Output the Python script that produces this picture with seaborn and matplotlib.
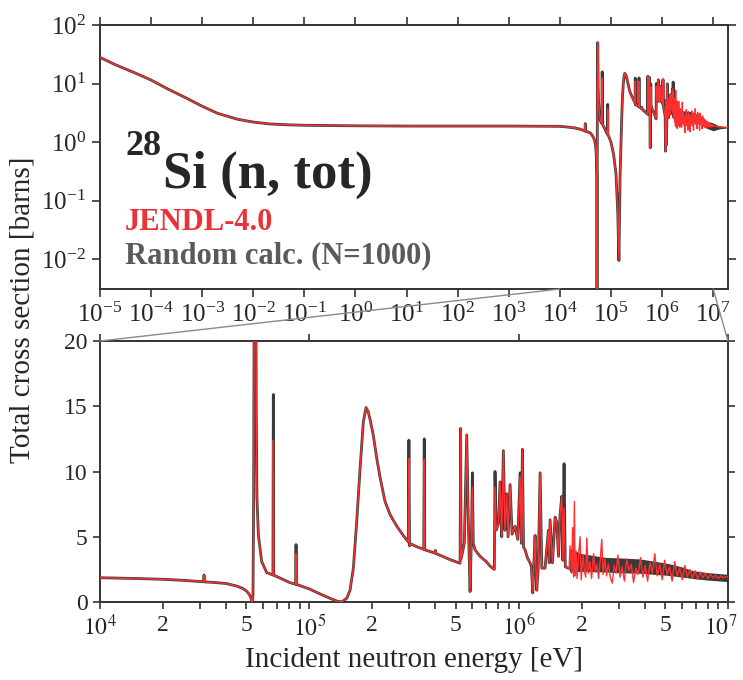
import numpy as np
import matplotlib
matplotlib.use("Agg")
import matplotlib.pyplot as plt
from matplotlib.ticker import LogLocator, NullLocator, MultipleLocator, FuncFormatter
from matplotlib.patches import ConnectionPatch
from matplotlib.transforms import ScaledTranslation, blended_transform_factory
import seaborn as sns

# thermal / 1/v region (top panel only)
thermal_energy = [1e-5, 2e-5, 5e-5, 1e-4, 2e-4, 5e-4, 1e-3, 2e-3, 5e-3, 1e-2,
                  2e-2, 5e-2, 1e-1, 1e0, 1e1, 1e2, 1e3, 5e3]
thermal_xs = [28.0, 21.0, 15.0, 11.5, 8.3, 5.6, 4.1, 3.1, 2.45, 2.2,
              2.05, 1.97, 1.94, 1.9, 1.88, 1.88, 1.88, 1.87]

# resolved resonance region, JENDL-4.0
res_energy = [
    1.0e4, 1.5e4, 2.0e4, 2.5e4, 3.0e4, 3.12e4, 3.14e4, 3.16e4, 3.5e4, 4.0e4,
    4.5e4, 4.8e4, 5.0e4, 5.1e4, 5.2e4, 5.28e4, 5.33e4, 5.38e4, 5.42e4, 5.46e4,
    5.50e4, 5.54e4, 5.58e4, 5.62e4, 5.71e4, 5.92e4, 6.26e4, 6.70e4, 6.73e4, 6.76e4,
    7.5e4, 8.09e4, 8.60e4, 8.64e4, 8.68e4, 9.3e4, 1.0e5, 1.125e5, 1.256e5, 1.36e5,
    1.43e5, 1.509e5, 1.565e5, 1.623e5, 1.683e5, 1.747e5, 1.811e5, 1.866e5, 1.91e5, 1.95e5,
    2.02e5, 2.10e5, 2.18e5, 2.30e5, 2.43e5, 2.62e5, 2.81e5, 2.97e5, 2.99e5, 3.01e5,
    3.05e5, 3.30e5, 3.52e5, 3.54e5, 3.56e5, 3.98e5, 4.00e5, 4.02e5, 4.70e5, 5.20e5,
    5.25e5, 5.28e5, 5.31e5, 5.50e5, 5.65e5, 5.75e5, 5.86e5, 5.95e5, 6.01e5, 6.07e5,
    6.19e5, 6.54e5, 7.00e5, 7.30e5, 7.65e5, 7.71e5, 7.80e5, 8.00e5, 8.15e5, 8.30e5,
    8.45e5, 8.60e5, 8.77e5, 8.90e5, 9.10e5, 9.30e5, 9.61e5, 9.90e5, 1.016e6, 1.030e6,
    1.042e6, 1.055e6, 1.073e6, 1.10e6, 1.134e6, 1.15e6, 1.168e6, 1.18e6, 1.198e6, 1.21e6,
    1.22e6, 1.24e6, 1.266e6, 1.29e6, 1.337e6, 1.387e6, 1.40e6, 1.413e6, 1.45e6, 1.493e6,
    1.52e6, 1.55e6, 1.577e6, 1.607e6, 1.625e6, 1.648e6, 1.67e6, 1.72e6,
]
res_xs = [
    1.86, 1.80, 1.74, 1.66, 1.57, 1.55, 2.07, 1.54, 1.50, 1.42,
    1.22, 1.05, 0.85, 0.70, 0.50, 0.25, 0.001, 0.5, 8.0, 30.0,
    50.0, 30.0, 14.0, 8.0, 5.1, 3.1, 2.25, 2.07, 12.4, 2.06,
    1.72, 1.48, 1.36, 3.7, 1.35, 1.18, 1.0, 0.62, 0.28, 0.06,
    0.0095, 0.28, 0.9, 2.6, 6.1, 10.2, 13.8, 14.9, 14.6, 14.0,
    12.8, 11.0, 9.5, 7.7, 6.7, 5.8, 5.1, 4.6, 11.0, 4.3,
    4.45, 4.2, 4.05, 10.9, 4.0, 3.75, 3.95, 3.72, 3.25, 3.0,
    2.97, 13.3, 3.3, 4.5, 12.8, 6.0, 0.8, 5.0, 8.8, 4.5,
    4.0, 3.5, 3.1, 2.75, 2.5, 8.8, 5.5, 6.0, 9.2, 5.0,
    11.6, 5.5, 8.3, 5.0, 9.0, 5.2, 5.8, 4.8, 9.6, 4.5,
    11.7, 4.2, 4.0, 3.4, 3.0, 2.7, 0.7, 2.6, 5.1, 2.5,
    0.9, 2.6, 9.9, 2.6, 2.6, 5.5, 3.0, 6.3, 3.0, 6.5,
    6.15, 3.5, 6.7, 8.1, 3.2, 7.2, 2.7, 2.6,
]

# fast region, JENDL-4.0 (noisy part above ~1.7 MeV)
fast_energy = [
    1.74e6, 1.76e6, 1.79e6, 1.81e6, 1.83e6, 1.846e6, 1.86e6, 1.88e6, 1.90e6, 1.93e6,
    1.965e6, 1.99e6, 2.03e6, 2.06e6, 2.09e6, 2.116e6, 2.15e6, 2.19e6, 2.23e6, 2.28e6,
    2.32e6, 2.36e6, 2.41e6, 2.46e6, 2.495e6, 2.53e6, 2.58e6, 2.63e6, 2.68e6, 2.74e6,
    2.80e6, 2.86e6, 2.92e6, 2.98e6, 3.05e6, 3.12e6, 3.20e6, 3.28e6, 3.36e6, 3.45e6,
    3.54e6, 3.63e6, 3.72e6, 3.82e6, 3.92e6, 4.02e6, 4.13e6, 4.24e6, 4.35e6, 4.47e6,
    4.59e6, 4.72e6, 4.85e6, 4.98e6, 5.12e6, 5.26e6, 5.41e6, 5.56e6, 5.72e6, 5.88e6,
    6.05e6, 6.22e6, 6.40e6, 6.58e6, 6.77e6, 6.96e6, 7.16e6, 7.37e6, 7.58e6, 7.80e6,
    8.02e6, 8.25e6, 8.49e6, 8.73e6, 8.98e6, 9.24e6, 9.50e6, 9.75e6, 1.0e7, 1.2e7,
    1.5e7, 2.0e7,
]
fast_xs = [
    2.5, 4.3, 2.2, 5.7, 1.9, 7.7, 2.0, 3.9, 1.8, 3.4,
    5.0, 1.7, 3.6, 2.4, 1.9, 4.9, 2.2, 3.1, 1.8, 3.7,
    2.3, 2.9, 1.8, 3.5, 4.8, 2.1, 3.3, 2.0, 2.9, 1.9,
    1.45, 2.8, 2.2, 3.6, 1.9, 2.7, 1.6, 3.3, 2.4, 2.9,
    1.5, 2.6, 2.1, 3.4, 1.9, 2.8, 1.6, 3.0, 2.2, 3.7,
    2.0, 2.9, 1.7, 3.2, 2.1, 2.7, 1.6, 3.1, 2.0, 2.6,
    1.7, 2.8, 1.9, 2.5, 1.8, 2.4, 1.75, 2.3, 1.85, 2.2,
    1.8, 2.1, 1.85, 2.05, 1.8, 2.0, 1.85, 1.95, 1.9, 1.85,
    1.8, 1.78,
]

# random calculation (N=1000): spikes that stick out above JENDL
rand_spike_energy = [6.73e4, 8.64e4, 2.99e5, 3.54e5, 6.01e5, 7.71e5, 1.016e6, 1.648e6]
rand_spike_xs = [15.9, 4.4, 12.4, 12.5, 9.9, 10.0, 9.9, 10.6]

# random calculation spread above ~1.75 MeV
band_energy = [1.74e6, 1.75e6, 2.0e6, 2.6e6, 3.0e6, 3.8e6, 5.1e6, 6.0e6, 6.8e6, 8.0e6, 1.0e7, 1.3e7, 2.0e7]
band_upper = [2.6, 4.1, 3.7, 3.42, 3.38, 3.3, 2.97, 2.7, 2.4, 2.25, 2.12, 1.9, 1.82]
band_lower = [2.6, 2.3, 2.35, 2.3, 2.25, 2.2, 2.05, 1.92, 1.8, 1.68, 1.56, 1.68, 1.76]

jendl_energy = np.array(thermal_energy + res_energy + fast_energy)
jendl_xs = np.array(thermal_xs + res_xs + fast_xs)

rand_energy = np.array(thermal_energy + res_energy)
rand_xs = np.array(thermal_xs + res_xs)
for e, v in zip(rand_spike_energy, rand_spike_xs):
    rand_xs[rand_energy == e] = v

sns.set_theme(style="ticks")
plt.rcParams["font.family"] = ["Liberation Serif", "DejaVu Serif"]
plt.rcParams["mathtext.fontset"] = "stix"

red = "#ff2f2f"
dark = "#3a3a3a"
spine_col = "#333333"

fig = plt.figure(figsize=(7.43, 6.80), dpi=100)
ax_top = fig.add_axes([0.1346, 0.575, 0.8452, 0.3882])
ax_bot = fig.add_axes([0.1346, 0.1147, 0.8452, 0.3838])

for ax in (ax_top, ax_bot):
    ax.fill_between(band_energy, band_lower, band_upper, color=dark, lw=0, zorder=2)
    sns.lineplot(x=rand_energy, y=rand_xs, ax=ax, color=dark, lw=2.0,
                 estimator=None, sort=False, zorder=3)
    sns.lineplot(x=jendl_energy, y=jendl_xs, ax=ax, color=red, lw=1.0,
                 estimator=None, sort=False, zorder=4)
    ax.set_xscale("log")
    for s in ax.spines.values():
        s.set_color(spine_col)
        s.set_linewidth(1.4)
    ax.set_xlabel("")
    ax.set_ylabel("")

# top panel: full range, log-log
ax_top.set_yscale("log")
ax_top.set_xlim(1e-5, 1.95e7)
ax_top.set_ylim(3.1e-3, 1e2)
ax_top.xaxis.set_major_locator(LogLocator(base=10, numticks=30))
ax_top.xaxis.set_minor_locator(NullLocator())
ax_top.yaxis.set_major_locator(LogLocator(base=10, numticks=10))
ax_top.yaxis.set_minor_locator(NullLocator())
ax_top.tick_params(which="both", direction="out", top=True, right=True,
                   length=6, width=1.2, color=spine_col, labelsize=18, pad=4)

ax_top.text(0.040, 0.508, "28", transform=ax_top.transAxes, fontsize=26,
            fontweight="bold", va="baseline", ha="left")
ax_top.text(0.100, 0.383, "Si (n, tot)", transform=ax_top.transAxes, fontsize=38,
            fontweight="bold", va="baseline", ha="left")
ax_top.text(0.040, 0.223, "JENDL-4.0", transform=ax_top.transAxes, fontsize=22,
            fontweight="bold", color="#e8333b", va="baseline", ha="left")
ax_top.text(0.040, 0.098, "Random calc. (N=1000)", transform=ax_top.transAxes,
            fontsize=22, fontweight="bold", color="#5a5a5a", va="baseline", ha="left")

# bottom panel: 10 keV - 10 MeV, linear cross section
x_min, x_max = 1e4, 1e7
ax_bot.set_xlim(x_min, x_max)
ax_bot.set_ylim(0, 20)
ax_bot.xaxis.set_major_locator(LogLocator(base=10, numticks=10))
ax_bot.xaxis.set_minor_locator(LogLocator(base=10, subs=np.arange(2, 10), numticks=10))


def major_label(x, pos):
    # the last decade label is drawn separately, nudged inside the figure
    if x >= x_max * 0.999:
        return ""
    return r"$10^{%d}$" % round(np.log10(x))


def minor_label(x, pos):
    m = x / 10 ** np.floor(np.log10(x) + 1e-9)
    if abs(m - 2) < 1e-6 or abs(m - 5) < 1e-6:
        return "%d" % round(m)
    return ""


ax_bot.xaxis.set_major_formatter(FuncFormatter(major_label))
ax_bot.xaxis.set_minor_formatter(FuncFormatter(minor_label))
ax_bot.yaxis.set_major_locator(MultipleLocator(5))
ax_bot.tick_params(which="both", direction="out", right=True, length=5,
                   width=1.2, color=spine_col, labelsize=17, pad=4)
ax_bot.tick_params(axis="x", which="major", top=True)
ax_bot.tick_params(axis="x", which="minor", top=False)

trans = blended_transform_factory(ax_bot.transData, ax_bot.transAxes) + \
    ScaledTranslation(-5 / 72, -9 / 72, fig.dpi_scale_trans)
ax_bot.text(x_max, 0, r"$10^{%d}$" % round(np.log10(x_max)), transform=trans,
            fontsize=17, ha="center", va="top")

# zoom connector lines
for e in (x_min, x_max):
    con = ConnectionPatch(xyA=(e, 3.1e-3), coordsA=ax_top.transData,
                          xyB=(e, 20), coordsB=ax_bot.transData,
                          color="#8a8a8a", lw=1.0)
    fig.add_artist(con)

fig.text(0.030, 0.544, "Total cross section [barns]", rotation=90, fontsize=21,
         ha="center", va="center")
fig.text(0.557, 0.03, "Incident neutron energy [eV]", fontsize=21,
         ha="center", va="center")

fig.savefig("out.png", dpi=100)
